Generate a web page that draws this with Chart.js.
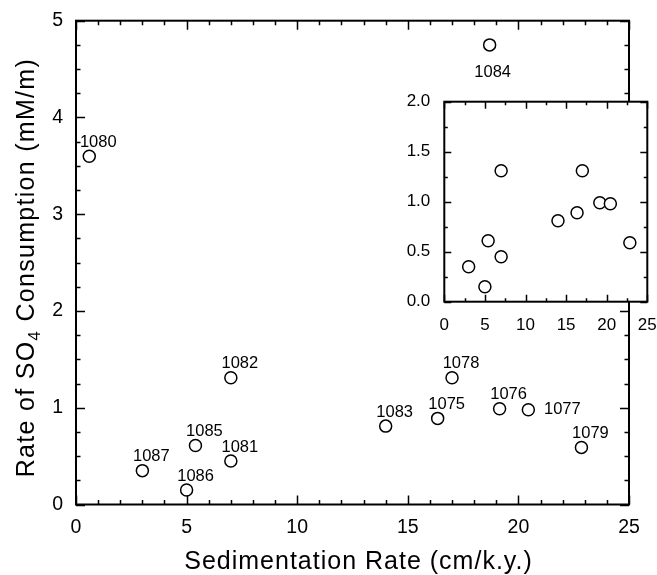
<!DOCTYPE html>
<html>
<head>
<meta charset="utf-8">
<script src="https://cdn.jsdelivr.net/npm/chart.js@4/dist/chart.umd.min.js"></script>
<style>
  html, body { margin: 0; padding: 0; background: #fff; }
  #wrap { position: relative; width: 657px; height: 575px; }
  #wrap canvas { position: absolute; left: 0; top: 0; }
</style>
</head>
<body>
<div id="wrap">
  <canvas id="main" width="657" height="575"></canvas>
  <canvas id="inset" width="657" height="575"></canvas>
</div>
<script>
// ODP sites, sedimentation rate (cm/k.y.) and sulfate consumption (mM/m)
const sites   = ['1075', '1076', '1077', '1078', '1079', '1080', '1081', '1082', '1083', '1084', '1085', '1086', '1087'];
const sedRate = [16.35, 19.15, 20.45, 17.0, 22.85, 0.6, 7.0, 7.0, 14.0, 18.7, 5.4, 5.0, 3.0];
const so4Rate = [0.89, 0.99, 0.98, 1.31, 0.59, 3.6, 0.45, 1.31, 0.81, 4.75, 0.61, 0.15, 0.35];

const mainXTicks  = [0, 5, 10, 15, 20, 25];
const mainYTicks  = [0, 1, 2, 3, 4, 5];
const insetXTicks = [0, 5, 10, 15, 20, 25];
const insetYTicks = [0.0, 0.5, 1.0, 1.5, 2.0];

const FONT = '"Liberation Sans", Arial, Helvetica, sans-serif';

const points = sedRate.map((x, i) => ({ x: x, y: so4Rate[i] }));

// box around the plot with inward ticks on all four sides
const boxTicks = (cfg) => ({
    id: 'boxTicks',
    beforeDraw(chart) {
        if (!cfg.fill) return;
        const { ctx, chartArea: a } = chart;
        ctx.save();
        ctx.fillStyle = cfg.fill;
        ctx.fillRect(a.left, a.top, a.right - a.left, a.bottom - a.top);
        ctx.restore();
    },
    afterDatasetsDraw(chart) {
        const { ctx, chartArea: a, scales: { x, y } } = chart;
        const isMajor = (v, step) => Math.abs(v / step - Math.round(v / step)) < 1e-6;
        ctx.save();
        ctx.strokeStyle = '#000';
        ctx.lineWidth = cfg.tickWidth;
        ctx.beginPath();
        for (let v = x.min; v <= x.max + 1e-9; v += cfg.xMinor) {
            const px = Math.round(x.getPixelForValue(v)) + 0.5;
            const len = isMajor(v, cfg.xMajor) ? cfg.major : cfg.minor;
            ctx.moveTo(px, a.bottom); ctx.lineTo(px, a.bottom - len);
            ctx.moveTo(px, a.top); ctx.lineTo(px, a.top + len);
        }
        for (let v = y.min; v <= y.max + 1e-9; v += cfg.yMinor) {
            const py = Math.round(y.getPixelForValue(v)) + 0.5;
            const len = isMajor(v, cfg.yMajor) ? cfg.major : cfg.minor;
            ctx.moveTo(a.left, py); ctx.lineTo(a.left + len, py);
            ctx.moveTo(a.right, py); ctx.lineTo(a.right - len, py);
        }
        ctx.stroke();
        ctx.lineWidth = cfg.frameWidth;
        ctx.strokeRect(a.left, a.top, a.right - a.left, a.bottom - a.top);
        ctx.restore();
    }
});

// site numbers next to the circles
const labelOffsets = { '1084': [3, 28], '1077': [34, 0] };
const siteLabels = {
    id: 'siteLabels',
    afterDatasetsDraw(chart) {
        const ctx = chart.ctx;
        const meta = chart.getDatasetMeta(0);
        ctx.save();
        ctx.font = '16.5px ' + FONT;
        ctx.fillStyle = '#000';
        ctx.textAlign = 'center';
        ctx.textBaseline = 'middle';
        meta.data.forEach((pt, i) => {
            const off = labelOffsets[sites[i]] || [9, -14];
            ctx.fillText(sites[i], pt.x + off[0], pt.y + off[1]);
        });
        ctx.restore();
    }
};

// axis titles (y title has a subscript)
const axisTitles = {
    id: 'axisTitles',
    afterDraw(chart) {
        const { ctx, chartArea: a } = chart;
        ctx.save();
        ctx.fillStyle = '#000';
        ctx.letterSpacing = '1px';
        ctx.font = '25px ' + FONT;
        ctx.textAlign = 'center';
        ctx.textBaseline = 'alphabetic';
        ctx.fillText('Sedimentation Rate (cm/k.y.)', (a.left + a.right) / 2 + 6, 569);

        const parts = [
            { t: 'Rate of SO', f: '25px ' + FONT, dy: 0 },
            { t: '4', f: '17px ' + FONT, dy: 6 },
            { t: ' Consumption (mM/m)', f: '25px ' + FONT, dy: 0 }
        ];
        ctx.textAlign = 'left';
        ctx.letterSpacing = '1.3px';
        let total = 0;
        parts.forEach(p => { ctx.font = p.f; p.w = ctx.measureText(p.t).width; total += p.w; });
        ctx.translate(24.5, (a.top + a.bottom) / 2 + 5);
        ctx.rotate(-Math.PI / 2);
        let u = -total / 2;
        parts.forEach(p => {
            ctx.font = p.f;
            ctx.fillText(p.t, u, 9 + p.dy);
            u += p.w;
        });
        ctx.restore();
    }
};

const pointStyle = {
    pointStyle: 'circle',
    pointRadius: 6,
    pointBorderWidth: 1.5,
    pointBorderColor: '#000',
    pointBackgroundColor: '#fff',
    showLine: false
};

const noSidePadding = s => { s.paddingLeft = 0; s.paddingRight = 0; };

new Chart(document.getElementById('main'), {
    type: 'scatter',
    data: { datasets: [{ data: points, ...pointStyle }] },
    options: {
        responsive: false,
        animation: false,
        layout: { padding: { left: 0, top: 20.7, right: 28, bottom: 0 } },
        plugins: { legend: { display: false }, tooltip: { enabled: false } },
        scales: {
            x: {
                type: 'linear', min: 0, max: 25,
                afterBuildTicks: s => { s.ticks = mainXTicks.map(v => ({ value: v })); },
                afterFit: s => { s.height = 70.5; noSidePadding(s); },
                grid: { display: false, drawTicks: false },
                border: { display: false },
                ticks: { color: '#000', padding: 11, font: { family: FONT, size: 19.5 } }
            },
            y: {
                type: 'linear', min: 0, max: 5,
                afterBuildTicks: s => { s.ticks = mainYTicks.map(v => ({ value: v })); },
                afterFit: s => { s.width = 76; s.paddingTop = 0; s.paddingBottom = 0; },
                grid: { display: false, drawTicks: false },
                border: { display: false },
                ticks: { color: '#000', padding: 13, font: { family: FONT, size: 19.5 } }
            }
        }
    },
    plugins: [boxTicks({ xMinor: 1, xMajor: 5, yMinor: 0.25, yMajor: 1, major: 9, minor: 4.5, tickWidth: 1.5, frameWidth: 2 }), siteLabels, axisTitles]
});

new Chart(document.getElementById('inset'), {
    type: 'scatter',
    data: { datasets: [{ data: points, ...pointStyle }] },
    options: {
        responsive: false,
        animation: false,
        layout: { padding: { left: 384.3, top: 101.7, right: 9.7, bottom: 233.3 } },
        plugins: { legend: { display: false }, tooltip: { enabled: false } },
        scales: {
            x: {
                type: 'linear', min: 0, max: 25,
                afterBuildTicks: s => { s.ticks = insetXTicks.map(v => ({ value: v })); },
                afterFit: s => { s.height = 40; noSidePadding(s); },
                grid: { display: false, drawTicks: false },
                border: { display: false },
                ticks: { color: '#000', padding: 13, font: { family: FONT, size: 17 } }
            },
            y: {
                type: 'linear', min: 0, max: 2,
                afterBuildTicks: s => { s.ticks = insetYTicks.map(v => ({ value: v })); },
                afterFit: s => { s.width = 60; s.paddingTop = 0; s.paddingBottom = 0; },
                grid: { display: false, drawTicks: false },
                border: { display: false },
                ticks: { color: '#000', padding: 14, font: { family: FONT, size: 17 }, callback: v => v.toFixed(1) }
            }
        }
    },
    plugins: [boxTicks({ fill: '#fff', xMinor: 2.5, xMajor: 5, yMinor: 0.25, yMajor: 0.5, major: 7, minor: 3.5, tickWidth: 1.5, frameWidth: 2 })]
});
</script>
</body>
</html>
